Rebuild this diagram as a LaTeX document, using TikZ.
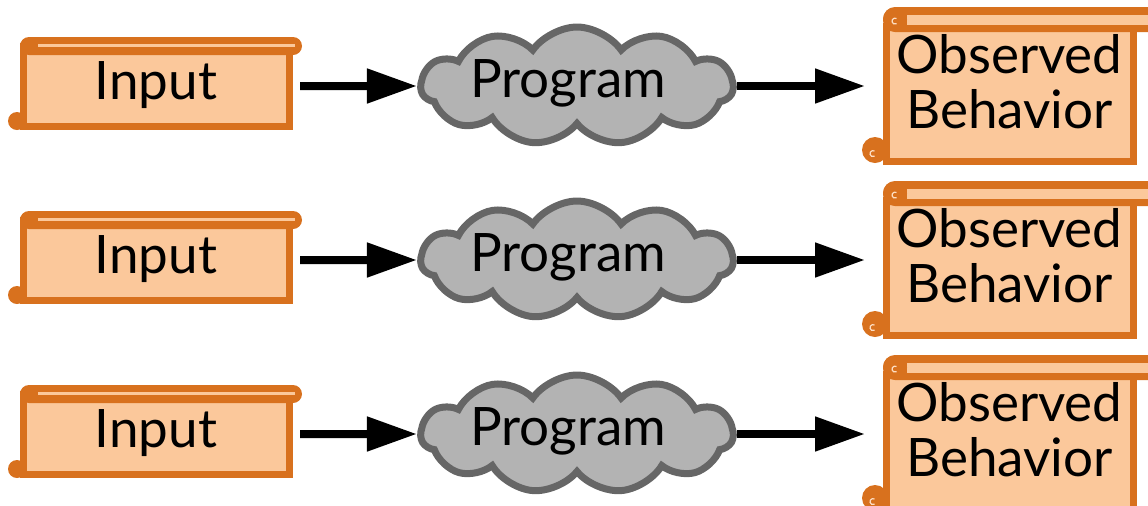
\documentclass[tikz,border=0pt]{standalone}
\usepackage{fontspec}
\setmainfont{Lato}
\usetikzlibrary{shapes.symbols,arrows.meta}
\definecolor{scrollline}{RGB}{216,113,30}
\definecolor{scrollfill}{RGB}{251,200,155}
\definecolor{cloudline}{RGB}{102,102,102}
\definecolor{cloudfill}{RGB}{179,179,179}

\begin{document}
\begin{tikzpicture}[x=0.5pt,y=-0.5pt,
    font=\fontsize{26.5}{27.5}\selectfont,
    inscroll/.style={draw=scrollline,fill=scrollfill,line width=3.5pt,outer sep=0pt,
      minimum width=133pt,minimum height=40pt,text height=19pt,text depth=6pt},
    outscroll/.style={draw=scrollline,fill=scrollfill,line width=3.5pt,outer sep=0pt,
      minimum width=123.5pt,minimum height=66pt,align=center,text height=47.5pt,text depth=13.5pt},
    % roll at the top and curl at the bottom, drawn over the body
    pics/inroll/.style={code={
      \fill[scrollline,rounded corners=4.5pt] (-136,-49) rectangle (146,-31);
      \draw[scrollfill,line width=1.5pt] (-118,-40.5) -- (139,-40.5);
      \fill[scrollline] (-139,35) circle[radius=4.5pt];}},
    pics/outroll/.style={code={
      \fill[scrollline,rounded corners=6pt] (-126.5,-87) rectangle (160,-62);
      \draw[scrollfill,line width=5pt] (-102.5,-74.5) -- (160,-74.5);
      \fill[scrollline] (-114.5,-74.5) circle[radius=6pt];
      \draw[scrollfill!60!white,line width=0.6pt] (-113,-75.5) arc[start angle=60,end angle=300,radius=1.5pt];
      \fill[scrollline] (-134.5,56) circle[radius=6.5pt];
      \draw[scrollfill!60!white,line width=0.6pt] (-135,57) arc[start angle=60,end angle=300,radius=1.5pt];}},
    prog/.style={cloud,cloud puffs=11,cloud puff arc=110,cloud ignores aspect,
      draw=cloudline,fill=cloudfill,line width=3.5pt,inner sep=0pt,
      minimum width=156pt,minimum height=59pt,text height=18.5pt,text depth=7.5pt},
    flow/.style={line width=4pt,-{Triangle[length=25pt,width=16.5pt]}}]
  \useasboundingbox (0,0) rectangle (1148,505);
  \clip (0,0) rectangle (1148,505);
  \foreach \r/\y in {1/0,2/174,3/348}{
    \node (in\r)   [inscroll]  at (156,86+\y) {Input};
    \pic at (in\r.center) {inroll};
    \node (prog\r) [prog]      at (577,86+\y) {Program\kern9pt};
    \node (obs\r)  [outscroll] at (1009.5,94+\y) {Observed\\Behavior};
    \pic at (obs\r.center) {outroll};
    \draw [flow,shorten <=5.5pt] (in\r.east) -- (prog\r.west);
    \draw [flow,shorten >=10.5pt] (prog\r.east) -- (prog\r.east -| obs\r.west);
  }
\end{tikzpicture}
\end{document}
